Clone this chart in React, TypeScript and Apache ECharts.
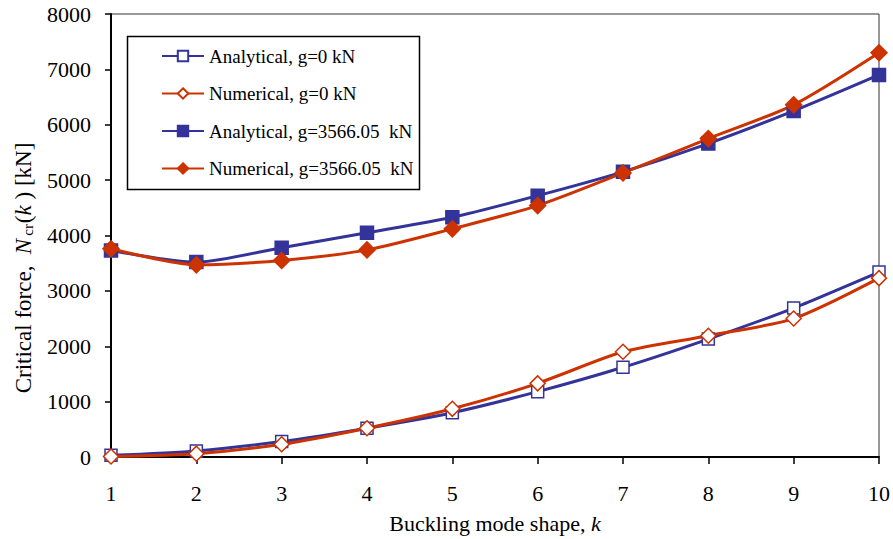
import React, { useEffect, useRef } from "react";
import * as echarts from "echarts";

const modes = [1, 2, 3, 4, 5, 6, 7, 8, 9, 10];
const analytical0 = [30, 110, 280, 520, 800, 1180, 1620, 2130, 2690, 3340];
const numerical0 = [10, 60, 230, 520, 870, 1330, 1900, 2190, 2500, 3230];
const analyticalG = [3730, 3520, 3780, 4050, 4330, 4720, 5150, 5660, 6250, 6900];
const numericalG = [3760, 3470, 3550, 3740, 4120, 4540, 5130, 5750, 6360, 7300];
const seriesNames = [
  "Analytical, g=0 kN",
  "Numerical, g=0 kN",
  "Analytical, g=3566.05  kN",
  "Numerical, g=3566.05  kN",
];

const BLUE = "#333399";
const RED = "#CC3300";
const FONT = "Liberation Serif";

export default function App() {
  const ref = useRef<HTMLDivElement>(null);
  useEffect(() => {
    if (!ref.current) return;
    const chart = echarts.init(ref.current, undefined, { renderer: "svg" });
    const mk = (
      name: string,
      data: number[],
      color: string,
      symbol: string,
      filled: boolean,
      size: number
    ) => ({
      name,
      type: "line",
      smooth: 0.25,
      data: modes.map((m, i) => [m, data[i]]),
      symbol,
      symbolSize: size,
      showAllSymbol: true,
      lineStyle: { color, width: 3 },
      itemStyle: { color: filled ? color : "#ffffff", borderColor: color, borderWidth: 1.5 },
      z: filled ? 3 : 2,
    });
    chart.setOption({
      animation: false,
      textStyle: { fontFamily: FONT },
      grid: {
        left: 111,
        right: 12,
        top: 14,
        bottom: 82,
        show: true,
        borderColor: "#333",
        borderWidth: 1,
        backgroundColor: "transparent",
      },
      xAxis: {
        type: "value",
        min: 1,
        max: 10,
        interval: 1,
        name: "Buckling mode shape, {i|k}",
        nameLocation: "middle",
        nameGap: 55,
        nameTextStyle: {
          fontFamily: FONT,
          fontSize: 22,
          color: "#000",
          rich: { i: { fontFamily: FONT, fontSize: 22, fontStyle: "italic", color: "#000" } },
        },
        axisLine: { show: true, onZero: false, lineStyle: { color: "#000", width: 2 } },
        axisTick: { show: true, inside: false, length: 7, lineStyle: { color: "#000", width: 1.5 } },
        axisLabel: { fontFamily: FONT, fontSize: 22, color: "#000", margin: 25 },
        splitLine: { show: false },
      },
      yAxis: {
        type: "value",
        min: 0,
        max: 8000,
        interval: 1000,
        axisLine: { show: true, lineStyle: { color: "#000", width: 2 } },
        axisTick: { show: true, inside: false, length: 6, lineStyle: { color: "#000", width: 1.5 } },
        axisLabel: {
          fontFamily: FONT,
          fontSize: 22,
          color: "#000",
          margin: 20,
          formatter: (v: number) => String(v),
        },
        splitLine: { show: false },
      },
      legend: {
        orient: "vertical",
        left: 156,
        top: 40.5,
        itemWidth: 42,
        itemHeight: 13,
        itemGap: 16.5,
        textStyle: { fontFamily: FONT, fontSize: 19, color: "#000", lineHeight: 21 },
        data: seriesNames,
      },
      graphic: [
        {
          type: "rect",
          shape: { x: 127.5, y: 36.5, width: 292, height: 153 },
          style: { fill: "#fff", stroke: "#000", lineWidth: 1.5 },
          z: 0,
        },
        {
          type: "text",
          x: 23,
          y: 268,
          rotation: Math.PI / 2,
          style: {
            text: "{a|Critical force,  }{i|N}{s|cr}{a|(}{i|k}{a| ) [kN]}",
            align: "center",
            verticalAlign: "middle",
            fill: "#000",
            rich: {
              a: { fontFamily: FONT, fontSize: 23, fill: "#000", lineHeight: 24, verticalAlign: "bottom" },
              i: { fontFamily: FONT, fontSize: 23, fontStyle: "italic", fill: "#000", lineHeight: 24, verticalAlign: "bottom" },
              s: { fontFamily: FONT, fontSize: 15, fill: "#000", lineHeight: 24, verticalAlign: "bottom", padding: [0, 1, 0, 3] },
            },
          },
          z: 10,
        },
      ],
      series: [
        mk(seriesNames[0], analytical0, BLUE, "rect", false, 12),
        mk(seriesNames[1], numerical0, RED, "diamond", false, 15),
        mk(seriesNames[2], analyticalG, BLUE, "rect", true, 13),
        mk(seriesNames[3], numericalG, RED, "diamond", true, 16),
      ],
    });
    return () => chart.dispose();
  }, []);
  return <div ref={ref} style={{ width: 893, height: 539, position: "absolute", left: 0, top: 0 }} />;
}
